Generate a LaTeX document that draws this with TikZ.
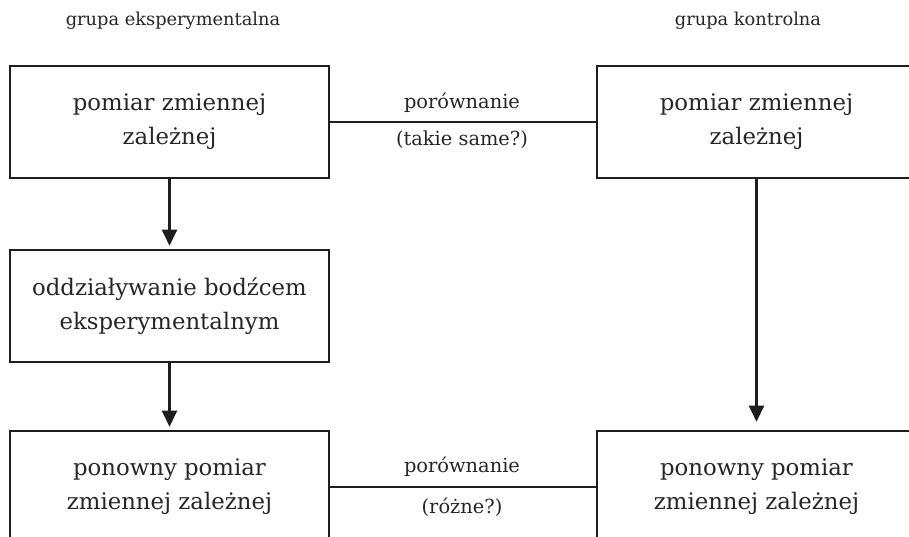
\documentclass[tikz,border=0pt]{standalone}
\usepackage{fontspec}
\setmainfont{DejaVu Serif}
\usetikzlibrary{arrows.meta}
\definecolor{txt}{HTML}{262626}
\definecolor{ln}{HTML}{1E1E1E}
\tikzset{
  x=1pt,y=1pt,
  box/.style={draw=ln,line width=2.6pt,minimum width=319pt,minimum height=112pt,inner sep=0pt,
    align=center,text=txt,font=\fontsize{22.8}{34}\selectfont},
  lbl/.style={text=txt,font=\fontsize{17.8}{20}\selectfont,inner sep=0pt},
  cmp/.style={text=txt,font=\fontsize{19.4}{22}\selectfont,inner sep=0pt},
  link/.style={draw=ln,line width=2.2pt},
  arr/.style={draw=ln,line width=2.4pt,-{Triangle[width=15pt,length=16pt]}},
}
\begin{document}
\begin{tikzpicture}
\useasboundingbox (0,0) rectangle (909,-537);
\clip (0,0) rectangle (909,-537);
\node[lbl] (g1) at (173,-21) {grupa eksperymentalna};
\node[lbl] (g2) at (748,-21) {grupa kontrolna};
\node[box] (a1) at (169.5,-122) {pomiar zmiennej\\zależnej};
\node[box] (b1) at (756.5,-122) {pomiar zmiennej\\zależnej};
\node[box] (a2) at (169.5,-306) {oddziaływanie bodźcem\\eksperymentalnym};
\node[box] (a3) at (169.5,-487) {ponowny pomiar\\zmiennej zależnej};
\node[box] (b3) at (756.5,-487) {ponowny pomiar\\zmiennej zależnej};
\node[cmp] (c1) at (462,-103) {porównanie};
\node[cmp] (c2) at (462,-140) {(takie same?)};
\node[cmp] (c3) at (462,-467) {porównanie};
\node[cmp] (c4) at (462,-507) {(różne?)};
\draw[link] (a1) -- (b1);
\draw[link] (a3) -- (b3);
\draw[arr,shorten >=3pt] (a1) -- (a2);
\draw[arr,shorten >=3pt] (a2) -- (a3);
\draw[arr,shorten >=8pt] (b1) -- (b3);
\end{tikzpicture}
\end{document}
